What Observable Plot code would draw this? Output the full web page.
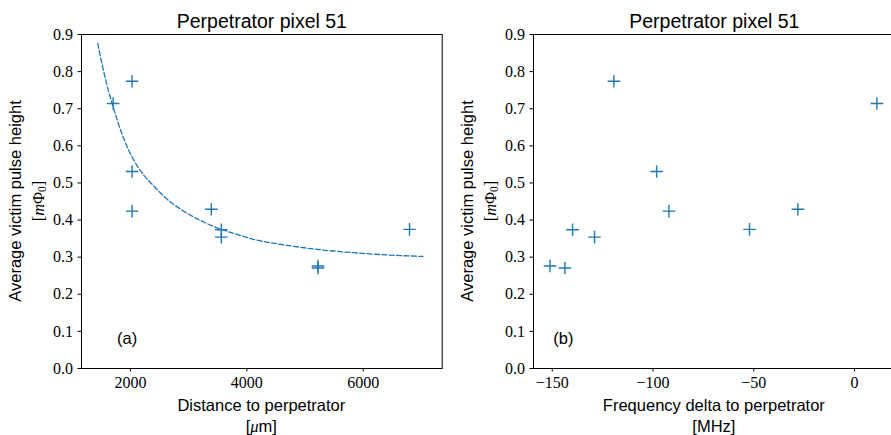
<!DOCTYPE html>
<html><head><meta charset="utf-8">
<script src="https://cdn.jsdelivr.net/npm/d3@7"></script>
<script src="https://cdn.jsdelivr.net/npm/@observablehq/plot@0.6"></script>
<style>
body{margin:0;background:#fff}
#wrap{position:relative;width:891px;height:435px;overflow:hidden;background:#fff}
.panel{position:absolute;top:0}
</style></head><body><div id="wrap"></div>
<script>
// measured points (same 10 victims in both panels)
const distance    = [1703, 2029, 2029, 2029, 3390, 3562, 3562, 5222, 5222, 6795];
const freqDelta   = [11.1, -119.4, -98.2, -92.1, -28.1, -139.9, -129.0, -151.1, -143.7, -52.1];
const pulseHeight = [0.714, 0.774, 0.531, 0.424, 0.429, 0.374, 0.354, 0.276, 0.271, 0.375];
// dashed fit curve
const fitDistance = [1439, 1542, 1627, 1691, 1772, 1943, 2172, 2400, 2601, 2876, 3162, 3562, 3820, 4117, 4690, 5262, 5834, 6406, 7024];
const fitHeight   = [0.876, 0.800, 0.746, 0.712, 0.670, 0.598, 0.533, 0.492, 0.460, 0.428, 0.402, 0.375, 0.362, 0.348, 0.332, 0.320, 0.312, 0.306, 0.302];
const yTicks  = [0, 0.1, 0.2, 0.3, 0.4, 0.5, 0.6, 0.7, 0.8, 0.9];
const xTicksA = [2000, 4000, 6000];
const xTicksB = [-150, -100, -50, 0];
const titleText = "Perpetrator pixel 51";
const yLabel = "Average victim pulse height";

const blue = "#1f77b4";
const SANS = "'Liberation Sans', Arial, sans-serif";
const SERIF = "'Liberation Serif', 'DejaVu Serif', serif";

const pts = distance.map((d, i) => ({dist: d, freq: freqDelta[i], h: pulseHeight[i]}));
const fit = fitDistance.map((d, i) => ({dist: d, h: fitHeight[i]}));

const plusSymbol = {draw(ctx, size) {
  const r = Math.sqrt(size / Math.PI);
  ctx.moveTo(-r, 0); ctx.lineTo(r, 0);
  ctx.moveTo(0, -r); ctx.lineTo(0, r);
}};
const fmtX = d => d < 0 ? "\u2212" + Math.abs(d) : String(d);

function panel({xKey, domain, ticks, marginLeft, marginRight, extra, tag, tagX, xlab, unitParts}) {
  const svg = Plot.plot({
    width: 450, height: 435,
    marginLeft, marginRight, marginTop: 34, marginBottom: 67,
    style: {fontFamily: SERIF, fontSize: "16px", background: "white", color: "black", overflow: "visible"},
    x: {domain, label: null},
    y: {domain: [0, 0.9], label: null},
    marks: [
      ...extra,
      Plot.dot(pts, {x: xKey, y: "h", symbol: plusSymbol, r: 6.3, stroke: blue, fill: "none", strokeWidth: 1.4}),
      Plot.text([tag], {x: tagX, y: 0.081, text: d => d, fontFamily: SANS, fontSize: 16.5, fill: "black"}),
      Plot.text([titleText], {frameAnchor: "top", dy: -7, lineAnchor: "bottom", text: d => d, fontFamily: SANS, fontSize: 19.5, fill: "black"}),
      Plot.axisX({ticks, tickFormat: fmtX, tickSize: 3.5, tickPadding: 4.5, stroke: "black", label: null, fontSize: 16, fontFamily: SERIF}),
      Plot.axisY({ticks: yTicks, tickFormat: d3.format(".1f"), tickSize: 3.5, tickPadding: 5, stroke: "black", label: null, fontSize: 16, fontFamily: SERIF}),
      Plot.frame({stroke: "black", strokeWidth: 1})
    ]
  });
  const s = d3.select(svg);
  const cy = 201;
  const x1 = marginLeft - 66, x2 = marginLeft - 43;
  s.append("text").attr("transform", `translate(${x1},${cy}) rotate(-90)`)
    .attr("text-anchor", "middle").attr("dominant-baseline", "central")
    .style("font-family", SANS).attr("font-size", 16.5).attr("fill", "black").text(yLabel);
  const t2 = s.append("text").attr("transform", `translate(${x2},${cy}) rotate(-90)`)
    .attr("text-anchor", "middle").attr("dominant-baseline", "central")
    .style("font-family", SERIF).attr("font-size", 16.5).attr("fill", "black");
  t2.append("tspan").text("[");
  t2.append("tspan").attr("font-style", "italic").text("m");
  t2.append("tspan").text("\u03A6");
  t2.append("tspan").attr("font-size", 11.5).attr("dy", 4).text("0");
  t2.append("tspan").attr("dy", -4).text("]");
  const cx = marginLeft + (450 - marginLeft - marginRight) / 2;
  s.append("text").attr("x", cx).attr("y", 411).attr("text-anchor", "middle")
    .style("font-family", SANS).attr("font-size", 16.5).attr("fill", "black").text(xlab);
  const t3 = s.append("text").attr("x", cx).attr("y", 432).attr("text-anchor", "middle")
    .style("font-family", SANS).attr("font-size", 16.5).attr("fill", "black");
  unitParts.forEach(p => {
    const ts = t3.append("tspan").text(p.t);
    if (p.italic) ts.attr("font-style", "italic").style("font-family", SERIF);
  });
  return svg;
}

const wrap = document.getElementById("wrap");
const a = panel({
  xKey: "dist", domain: [1160, 7356], ticks: xTicksA, marginLeft: 81, marginRight: 8.3,
  extra: [Plot.line(fit, {x: "dist", y: "h", stroke: blue, strokeWidth: 1.3, strokeDasharray: "5,2.4", curve: "monotone-x"})],
  tag: "(a)", tagX: 1943, xlab: "Distance to perpetrator",
  unitParts: [{t: "["}, {t: "\u03BC", italic: true}, {t: "m]"}]
});
a.classList.add("panel"); a.style.left = "0px";
const b = panel({
  xKey: "freq", domain: [-159.3, 20.2], ticks: xTicksB, marginLeft: 83, marginRight: 5.3,
  extra: [], tag: "(b)", tagX: -144.5, xlab: "Frequency delta to perpetrator",
  unitParts: [{t: "[MHz]"}]
});
b.classList.add("panel"); b.style.left = "450px";
wrap.appendChild(a); wrap.appendChild(b);
</script></body></html>
